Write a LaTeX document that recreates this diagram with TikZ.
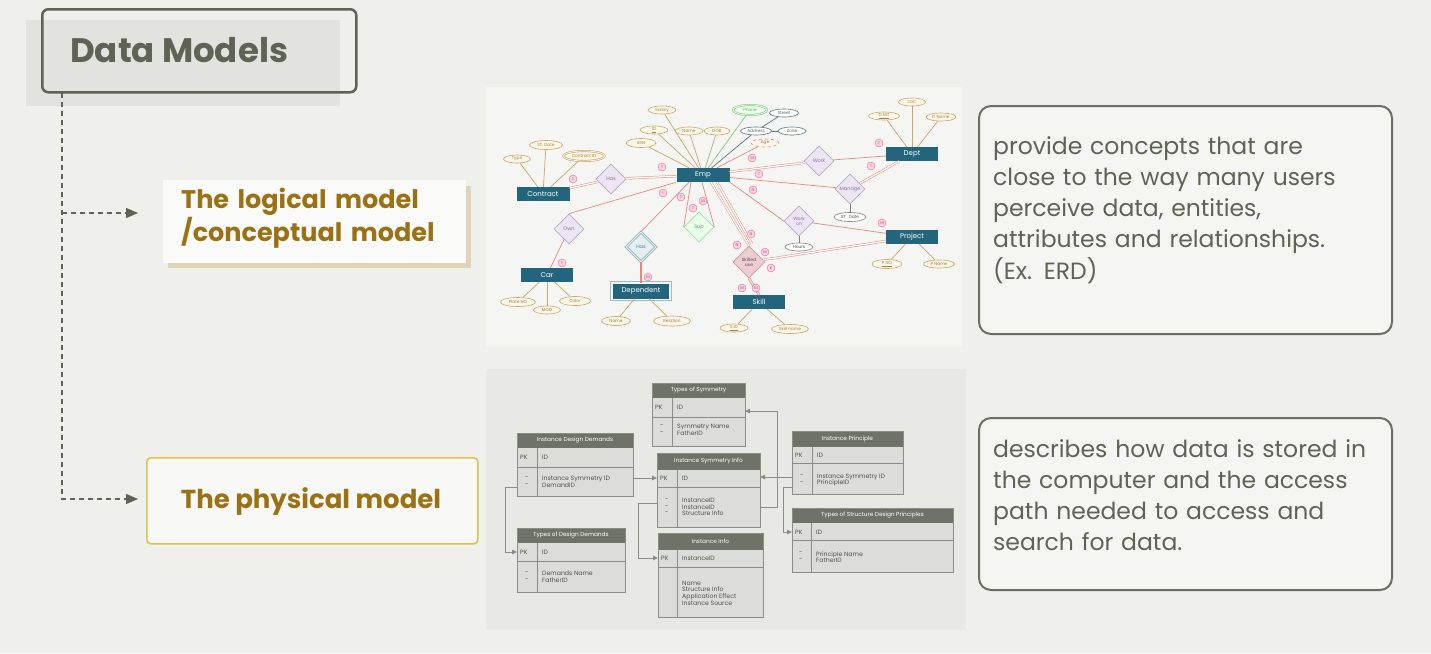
\documentclass[tikz,border=0pt]{standalone}
\usepackage{fontspec}
\setmainfont{Poppins}
\usetikzlibrary{arrows.meta,shapes.geometric,calc}

\definecolor{paper}{HTML}{EFEFEC}
\definecolor{panelA}{HTML}{F5F5F3}
\definecolor{panelB}{HTML}{E8E8E5}
\definecolor{olive}{HTML}{5E6355}
\definecolor{olivebg}{HTML}{E2E2DE}
\definecolor{gold}{HTML}{9A7215}
\definecolor{goldline}{HTML}{E6BF4A}
\definecolor{boxgrey}{HTML}{6B6F63}
\definecolor{teal}{HTML}{22657D}
\definecolor{salmon}{HTML}{E38A78}
\definecolor{tanline}{HTML}{C9A86A}
\definecolor{tantext}{HTML}{A4823E}
\definecolor{attrfill}{HTML}{FBF6E8}
\definecolor{relfill}{HTML}{ECE5F2}
\definecolor{reldraw}{HTML}{B9A9CC}
\definecolor{reltext}{HTML}{8E6FA8}
\definecolor{cardfill}{HTML}{FAD3E2}
\definecolor{carddraw}{HTML}{E36D9B}
\definecolor{cardtext}{HTML}{D0457E}
\definecolor{hdrfill}{HTML}{6F7367}
\definecolor{tabfill}{HTML}{DCDDD8}
\definecolor{tabdraw}{HTML}{8A8D84}
\definecolor{tabtext}{HTML}{4E5248}

\tikzset{
  dashline/.style={draw=olive, line width=1.2, dash pattern=on 5pt off 4pt,
    -{Triangle[length=12pt,width=10pt]}},
  ent/.style={rectangle, fill=teal, text=white, font=\fontsize{7}{7}\selectfont,
    inner sep=0, minimum width=53, minimum height=14},
  attr/.style={ellipse, draw=tanline, fill=attrfill, text=tantext,
    font=\fontsize{4.3}{5}\selectfont, inner sep=0, line width=0.6},
  rel/.style={diamond, draw=reldraw, fill=relfill, text=reltext,
    font=\fontsize{5}{5}\selectfont, inner sep=0, minimum width=30,
    minimum height=30, line width=0.6, align=center},
  card/.style={circle, fill=cardfill, draw=carddraw, text=cardtext,
    font=\fontsize{4}{4}\selectfont, inner sep=0, minimum size=8, line width=0.4},
  relone/.style={draw=salmon, line width=0.7},
  reltwo/.style={draw=salmon, line width=0.5, double=white, double distance=1.3},
  attrl/.style={draw=tanline, line width=0.7},
  tabbody/.style={rectangle, fill=tabfill, draw=tabdraw, line width=0.8,
    inner sep=0, outer sep=0},
  hdrtext/.style={text=white, font=\fontsize{5.8}{6}\selectfont, inner sep=0},
  fieldtext/.style={text=tabtext, font=\fontsize{6.2}{6.6}\selectfont, inner sep=0,
    anchor=west, align=left},
  fk/.style={draw=tabdraw, line width=0.8, -{Triangle[length=5pt,width=4.5pt]}},
  notebox/.style={rectangle, rounded corners=12, draw=boxgrey, line width=2,
    fill=paper!60!white, inner sep=0},
  notetext/.style={text=olive, font=\fontsize{23.5}{31.3}\selectfont,
    text width=395, align=left, inner sep=0, anchor=base west},
}

% frame of one database table: name, x0, y0, x1, header bottom, key row bottom, y1, divider x, title
\newcommand{\dbframe}[9]{%
  \node[tabbody, minimum width={#4-#2}, minimum height={#7-#3}, anchor=north west] (#1) at (#2,#3) {};
  \fill[hdrfill] (#2,#3) rectangle (#4,#5);
  \draw[tabdraw, line width=0.8] (#2,#6) -- (#4,#6) (#8,#5) -- (#8,#7);
  \draw[tabdraw, line width=0.8] (#1.north west) rectangle (#1.south east);
  \node[hdrtext] at ({(#2+#4)/2},{(#3+#5)/2}) {#9};
}

\begin{document}
\begin{tikzpicture}[x=1pt,y=-1pt]
\fill[paper] (0,0) rectangle (1431,653);
\useasboundingbox (0,0) rectangle (1431,653);

% ---------- picture panels ----------
\fill[panelA] (486,87) rectangle (962,346);
\fill[panelB] (486,369) rectangle (966,630);

% ---------- title ----------
\fill[olivebg] (26,20) rectangle (340,106);
\node[draw=olive, line width=2.5, rounded corners=6, minimum width=314,
  minimum height=83, anchor=north west, inner sep=0] (dm) at (41,8) {};
\node[anchor=base west, text=olive, font=\bfseries\fontsize{34}{34}\selectfont, inner sep=0]
  (dmtext) at (70,62) {Data Models};

% ---------- model labels ----------
\fill[tanline!40!paper] (168,186) rectangle (471,268);
\node[fill=white!70!paper, minimum width=303, minimum height=83, anchor=north west,
  inner sep=0] (lm) at (163,180) {};
\node[anchor=base west, text=gold, font=\bfseries\fontsize{25.5}{33}\selectfont,
  align=left, text width=300, inner sep=0] (lmtext) at (181,208)
  {The logical model\\/conceptual model};

\node[draw=goldline, line width=1.6, rounded corners=4, fill=white!55!paper,
  minimum width=331, minimum height=86, anchor=north west, inner sep=0] (pm) at (146,457) {};
\node[anchor=base, text=gold, font=\bfseries\fontsize{26}{26}\selectfont, inner sep=0]
  (pmtext) at (311,508) {The physical model};

% ---------- dashed tree ----------
\coordinate (trunk) at (62,93);
\coordinate (tipA) at (138,213);
\coordinate (tipB) at (138,499);
\draw[dashline] (trunk) |- (tipB);
\draw[dashline] (trunk |- tipA) -- (tipA);

% ---------- note boxes ----------
\node[notebox, minimum width=413, minimum height=228, anchor=north west] (noteA) at (978,105) {};
\node[notetext] (noteAtext) at (993,154)
  {provide concepts that are\\close to the way many users\\perceive data, entities,\\attributes and relationships.\\(Ex. ERD)};
\node[notebox, minimum width=413, minimum height=172, anchor=north west] (noteB) at (978,417) {};
\node[notetext] (noteBtext) at (993,457)
  {describes how data is stored in\\the computer and the access\\path needed to access and\\search for data.};

% ================= ER diagram =================
% entities
\node[ent] (contract) at (543,194) {Contract};
\node[ent] (emp) at (703,175) {Emp};
\node[ent, minimum width=52] (dept) at (912,154) {Dept};
\node[ent, minimum width=52] (project) at (912,237) {Project};
\node[ent, minimum width=52] (skill) at (759,302) {Skill};
\node[ent, minimum width=52] (car) at (547,275) {Car};
\node[ent, minimum width=56, minimum height=15] (dep) at (641,291) {Dependent};
\draw[draw=teal!45!white, line width=0.9] ([shift={(-2,2)}]dep.south west) rectangle ([shift={(2,-2)}]dep.north east);

% relationships
\node[rel] (hasA) at (611,179) {Has};
\node[rel] (own) at (569,229) {Own};
\node[rel, draw=teal!55!white, fill=teal!12!white, text=teal!80!white, double=teal!12!white,
  double distance=1.2] (hasB) at (641,247) {Has};
\node[rel, draw=teal!30!green!45!white, fill=teal!10!green!8!white, text=teal!40!green!60!black!70!white] (sup) at (699,227) {Sup};
\node[rel] (work) at (819,161) {Work};
\node[rel] (manage) at (850,189) {Manage};
\node[rel, font=\fontsize{4.6}{4.8}\selectfont] (workon) at (799,221) {Work\\on};
\node[rel, minimum width=32, minimum height=32, fill=salmon!25!relfill, draw=salmon!60!reldraw,
  text=salmon!40!black!70!reltext, font=\fontsize{4.6}{4.8}\selectfont] (skuse) at (749,262) {Skilled\\use};

% attributes
\node[attr, minimum width=27, minimum height=8] (aType) at (517,159) {Type};
\node[attr, minimum width=33, minimum height=9] (aStDate) at (546,145) {ST. Date};
\node[attr, minimum width=41, minimum height=10, double=attrfill, double distance=0.8] (aCid) at (584,156) {Contract ID};
\node[attr, minimum width=28, minimum height=8] (aSal) at (662,110) {Salary};
\node[attr, minimum width=28, minimum height=8] (aId) at (654,130) {\underline{ID}};
\node[attr, minimum width=28, minimum height=8] (aName) at (689,131) {Name};
\node[attr, minimum width=26, minimum height=8] (aDob) at (717,131) {DOB};
\node[attr, minimum width=30, minimum height=9] (aSsn) at (641,143) {SSN};
\node[attr, minimum width=34, minimum height=10, draw=green!45!gray!70!white, text=green!40!gray,
  fill=green!6!white, double=green!6!white, double distance=0.8] (aPhone) at (750,110) {Phone};
\node[attr, minimum width=31, minimum height=8, draw=teal!40!gray, text=teal!30!black!70!white,
  fill=white] (aAddr) at (756,131) {Address};
\node[attr, minimum width=29, minimum height=8, draw=teal!40!gray, text=teal!30!black!70!white,
  fill=white] (aStreet) at (784,113) {Street};
\node[attr, minimum width=28, minimum height=8, draw=teal!40!gray, text=teal!30!black!70!white,
  fill=white] (aZone) at (792,131) {Zone};
\node[attr, minimum width=28, minimum height=8, draw=salmon, dashed, text=salmon!80!black] (aAge) at (765,143) {Age};
\node[attr, minimum width=31, minimum height=8] (aDno) at (884,116) {\underline{D NO}};
\node[attr, minimum width=27, minimum height=8] (aLoc) at (912,102) {LOC};
\node[attr, minimum width=30, minimum height=8] (aDname) at (941,117) {D Name};
\node[attr, minimum width=32, minimum height=9, draw=gray, text=black!70, fill=white] (aStD2) at (850,217) {ST . Date};
\node[attr, minimum width=28, minimum height=8, draw=gray, text=black!70, fill=white] (aHours) at (799,247) {Hours};
\node[attr, minimum width=30, minimum height=9] (aPno) at (887,264) {\underline{P NO}};
\node[attr, minimum width=31, minimum height=8] (aPname) at (939,264) {P Name};
\node[attr, minimum width=28, minimum height=8] (aSid) at (734,328) {\underline{S.ID}};
\node[attr, minimum width=37, minimum height=9] (aSkname) at (790,329) {Skill name};
\node[attr, minimum width=35, minimum height=9] (aPlate) at (518,302) {Plate NO};
\node[attr, minimum width=27, minimum height=8] (aMod) at (547,310) {MOD};
\node[attr, minimum width=31, minimum height=9] (aColor) at (575,301) {Color};
\node[attr, minimum width=29, minimum height=9] (aDname2) at (616,321) {Name};
\node[attr, minimum width=37, minimum height=10] (aRel) at (672,321) {Relation};

% attribute links
\foreach \a/\e in {aType/contract, aStDate/contract, aCid/contract,
  aSal/emp, aId/emp, aName/emp, aDob/emp, aSsn/emp,
  aDno/dept, aLoc/dept, aDname/dept, aPno/project, aPname/project,
  aSid/skill, aSkname/skill, aPlate/car, aMod/car, aColor/car,
  aDname2/dep, aRel/dep}
  \draw[attrl] (\a) -- (\e);
\draw[draw=green!45!gray!70!white, line width=0.7] (aPhone) -- (emp);
\draw[draw=teal!40!gray, line width=0.7] (aAddr) -- (emp);
\draw[draw=teal!40!gray, line width=0.7] (aAddr) -- (aStreet);
\draw[draw=teal!40!gray, line width=0.7] (aAddr) -- (aZone);
\draw[draw=salmon, line width=0.7] (aAge) -- (emp);
\draw[draw=gray, line width=0.7] (manage) -- (aStD2);
\draw[draw=gray, line width=0.7] (workon) -- (aHours);

% relationship links
\draw[reltwo] (contract) -- (hasA);
\draw[reltwo] (hasA) -- (emp);
\draw[relone] (emp.south west) -- (own.north);
\draw[relone] (own) -- (car);
\draw[relone] ([xshift=-14]emp.south) -- (hasB.north);
\draw[draw=salmon, line width=2.2] (hasB.south) -- (dep.north);
\draw[relone] ([xshift=-12]emp.south) -- (sup.west);
\draw[relone] ([xshift=-1]emp.south) -- (sup.east);
\draw[reltwo] (emp) -- (work);
\draw[relone] (work) -- (dept);
\draw[relone] (emp) -- (manage);
\draw[reltwo] (manage) -- (dept);
\draw[relone] (emp.south east) -- (workon.west);
\draw[relone] (workon) -- (project);
\draw[reltwo] ([xshift=8]emp.south) -- (skuse.north);
\draw[reltwo] ([xshift=14]emp.south) -- ([xshift=3,yshift=2]skuse.north);
\draw[reltwo] (skuse) -- (project);
\draw[draw=salmon, line width=0.5, double=salmon!40!white, double distance=1.6] (skuse.south) -- (skill.north);

% cardinalities
\foreach \n/\p/\t in {k1/{573,179}/1, k2/{662,167}/1, k3/{663,193}/1, k4/{681,197}/1,
  k5/{693,208}/1, k6/{703,201}/M, k7/{752,158}/M, k8/{759,174}/1, k9/{753,190}/N,
  k10/{879,143}/1, k11/{871,166}/1, k12/{882,223}/M, k13/{751,234}/N, k14/{737,245}/N,
  k15/{765,252}/M, k16/{771,268}/K, k17/{742,288}/M, k18/{756,288}/M, k19/{562,263}/1,
  k20/{648,277}/M}
  \node[card] (\n) at (\p) {\t};

% ================= relational schema =================
\dbframe{tos}{652}{383}{745}{398}{417}{446}{672}{Types of Symmetry}
\node[fieldtext] (tosk) at (655,407) {PK};
\node[fieldtext] (tosid) at (677,407) {ID};
\node[fieldtext] (tosm) at (660,430) {-\\-};
\node[fieldtext] (tosf) at (677,430) {Symmetry Name\\FatherID};

\dbframe{idd}{517}{433}{633}{448}{467}{496}{537}{Instance Design Demands}
\node[fieldtext] (iddk) at (520,457) {PK};
\node[fieldtext] (iddid) at (542,457) {ID};
\node[fieldtext] (iddm) at (525,482) {-\\-};
\node[fieldtext] (iddf) at (542,482) {Instance Symmetry ID\\DemandID};

\dbframe{isi}{657}{453}{760}{470}{487}{527}{677}{Instance Symmetry Info}
\node[fieldtext] (isik) at (660,478) {PK};
\node[fieldtext] (isiid) at (682,478) {ID};
\node[fieldtext] (isim) at (665,507) {-\\-\\-};
\node[fieldtext] (isif) at (682,507) {InstanceID\\InstanceID\\Structure Info};

\dbframe{ip}{792}{431}{903}{447}{463}{494}{812}{Instance Principle}
\node[fieldtext] (ipk) at (795,455) {PK};
\node[fieldtext] (ipid) at (817,455) {ID};
\node[fieldtext] (ipm) at (800,480) {-\\-};
\node[fieldtext] (ipf) at (817,480) {Instance Symmetry ID\\PrincipleID};

\dbframe{tsdp}{792}{508}{953}{523}{540}{572}{811}{Types of Structure Design Principles}
\node[fieldtext] (tsdpk) at (795,532) {PK};
\node[fieldtext] (tsdpid) at (816,532) {ID};
\node[fieldtext] (tsdpm) at (799,557) {-\\-};
\node[fieldtext] (tsdpf) at (816,557) {Principle Name\\FatherID};

\dbframe{tdd}{517}{528}{625}{543}{561}{592}{537}{Types of Design Demands}
\node[fieldtext] (tddk) at (520,552) {PK};
\node[fieldtext] (tddid) at (542,552) {ID};
\node[fieldtext] (tddm) at (525,577) {-\\-};
\node[fieldtext] (tddf) at (542,577) {Demands Name\\FatherID};

\dbframe{ii}{658}{533}{763}{550}{567}{617}{677}{Instance Info}
\node[fieldtext] (iik) at (661,558) {PK};
\node[fieldtext] (iiid) at (682,558) {InstanceID};
\node[fieldtext] (iif) at (682,593) {Name\\Structure Info\\Application Effect\\Instance Source};

% foreign key links
\coordinate (bendA) at (777,411);
\coordinate (bendB) at (505,487);
\coordinate (bendC) at (638,503);
\coordinate (bendD) at (783,487);
\draw[fk] (idd.east |- 0,478) -- (isi.west |- 0,478);
\draw[fk] (ip.west |- 0,477) -- (isi.east |- 0,477);
\draw[fk] (isi.east |- 0,507) -| (bendA) -- (tos.east |- bendA);
\draw[fk] (idd.west |- bendB) -- (bendB) |- (tdd.west |- 0,552);
\draw[fk] (isi.west |- bendC) -- (bendC) |- (ii.west |- 0,558);
\draw[fk] (ip.west |- bendD) -- (bendD) |- (tsdp.west |- 0,532);
\end{tikzpicture}
\end{document}
